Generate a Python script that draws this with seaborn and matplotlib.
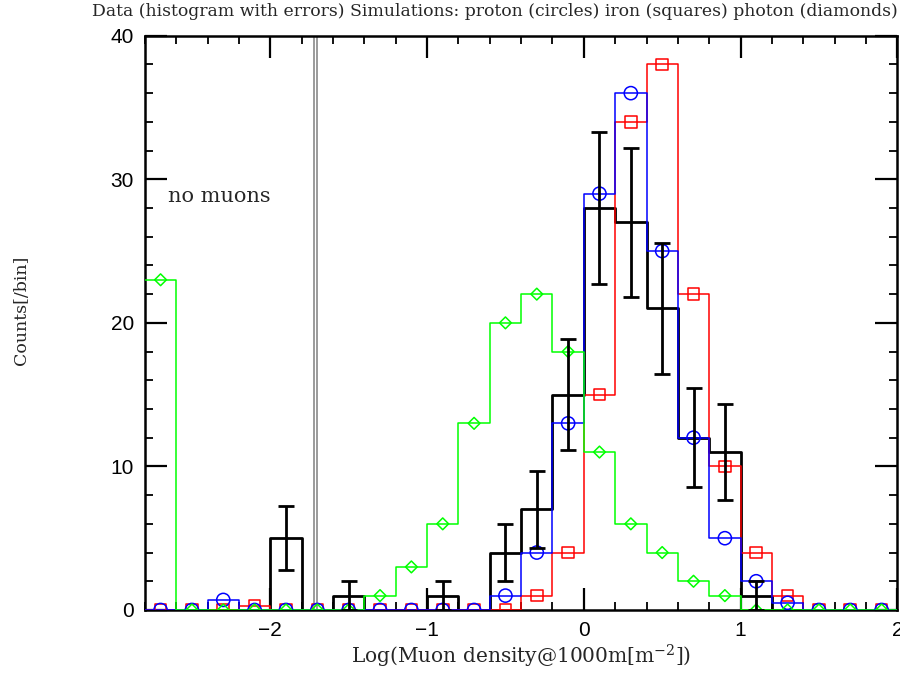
import matplotlib
matplotlib.use('Agg')
import matplotlib.pyplot as plt
from matplotlib.ticker import MultipleLocator
import seaborn as sns

# bins in log10(muon density), width 0.2
BIN_EDGES = [-2.8, -2.6, -2.4, -2.2, -2.0, -1.8, -1.6, -1.4, -1.2, -1.0, -0.8, -0.6,
             -0.4, -0.2, 0.0, 0.2, 0.4, 0.6, 0.8, 1.0, 1.2, 1.4, 1.6, 1.8, 2.0]
BIN_CENTERS = [-2.7, -2.5, -2.3, -2.1, -1.9, -1.7, -1.5, -1.3, -1.1, -0.9, -0.7, -0.5,
               -0.3, -0.1, 0.1, 0.3, 0.5, 0.7, 0.9, 1.1, 1.3, 1.5, 1.7, 1.9]

data_counts = [0, 0, 0, 0, 5, 0, 1, 0, 0, 1, 0, 4, 7, 15, 28, 27, 21, 12, 11, 1, 0, 0, 0, 0]
data_errors = [0, 0, 0, 0, 2.24, 0, 1, 0, 0, 1, 0, 2, 2.65, 3.87, 5.29, 5.2, 4.58, 3.46,
               3.32, 1, 0, 0, 0, 0]
proton = [0, 0, 0.7, 0, 0, 0, 0, 0, 0, 0, 0, 1, 4, 13, 29, 36, 25, 12, 5, 2, 0.5, 0, 0, 0]
iron = [0, 0, 0, 0.3, 0, 0, 0, 0, 0, 0, 0, 0, 1, 4, 15, 34, 38, 22, 10, 4, 1, 0, 0, 0]
photon = [23, 0, 0, 0, 0, 0, 0, 1, 3, 6, 13, 20, 22, 18, 11, 6, 4, 2, 1, 0, 0, 0, 0, 0]

NO_MUON_CUT = -1.71

SERIF = ['DejaVu Serif']
SANS = ['Liberation Sans', 'DejaVu Sans']


def main():
    sns.set_style('white')
    plt.rcParams['font.family'] = SANS
    plt.rcParams['mathtext.fontset'] = 'dejavuserif'

    fig = plt.figure(figsize=(9, 6.74), dpi=100)
    ax = fig.add_axes([0.161, 0.095, 0.836, 0.852])

    # data histogram (black, thick)
    sns.histplot(x=BIN_CENTERS, weights=data_counts, bins=BIN_EDGES, element='step',
                 fill=False, color='black', linewidth=2, ax=ax, zorder=3)

    sims = [(iron, '#ff0000', 's', 70), (proton, '#0000ff', 'o', 90), (photon, '#00ff00', 'D', 36)]
    for vals, col, mk, sz in sims:
        sns.histplot(x=BIN_CENTERS, weights=vals, bins=BIN_EDGES, element='step',
                     fill=False, color=col, linewidth=1.1, ax=ax, zorder=4)
        sns.scatterplot(x=BIN_CENTERS, y=vals, marker=mk, s=sz, facecolor='none',
                        edgecolor=col, linewidth=1.1, ax=ax, zorder=5)

    # error bars on the data
    ax.errorbar([c for c, e in zip(BIN_CENTERS, data_errors) if e > 0],
                [v for v, e in zip(data_counts, data_errors) if e > 0],
                yerr=[e for e in data_errors if e > 0], fmt='none', ecolor='black',
                elinewidth=2, capsize=6, capthick=2, zorder=6)

    # separator of the "no muons" bin
    ax.axvline(NO_MUON_CUT - 0.01, color='#808080', lw=1.1, zorder=2)
    ax.axvline(NO_MUON_CUT + 0.01, color='#808080', lw=1.1, zorder=2)

    ax.text(-2.655, 28.8, 'no muons', family=SERIF, fontsize=15, va='center', ha='left')

    ax.set_xlim(-2.8, 2.0)
    ax.set_ylim(0, 40)
    ax.xaxis.set_major_locator(MultipleLocator(1))
    ax.xaxis.set_minor_locator(MultipleLocator(0.2))
    ax.yaxis.set_major_locator(MultipleLocator(10))
    ax.yaxis.set_minor_locator(MultipleLocator(2))
    ax.tick_params(which='both', direction='in', top=True, right=True, bottom=True, left=True,
                   colors='black', labelsize=15)
    ax.tick_params(which='major', length=16, width=1.6, pad=8)
    ax.tick_params(which='minor', length=6, width=1.3)
    for s in ax.spines.values():
        s.set_color('black')
        s.set_linewidth(1.8)

    ax.set_xlabel(r'Log(Muon density@1000m[m$^{-2}$])', family=SERIF, fontsize=14.5, labelpad=2)
    ax.set_ylabel('')
    fig.text(0.024, 0.54, 'Counts[/bin]', family=SERIF, fontsize=12.5, rotation=90,
             ha='center', va='center')
    fig.text(0.997, 0.995, 'Data (histogram with errors) Simulations: proton (circles) '
             'iron (squares) photon (diamonds)', family=SERIF, fontsize=12.4,
             ha='right', va='top')

    fig.savefig('out.png', dpi=100)


if __name__ == '__main__':
    main()
